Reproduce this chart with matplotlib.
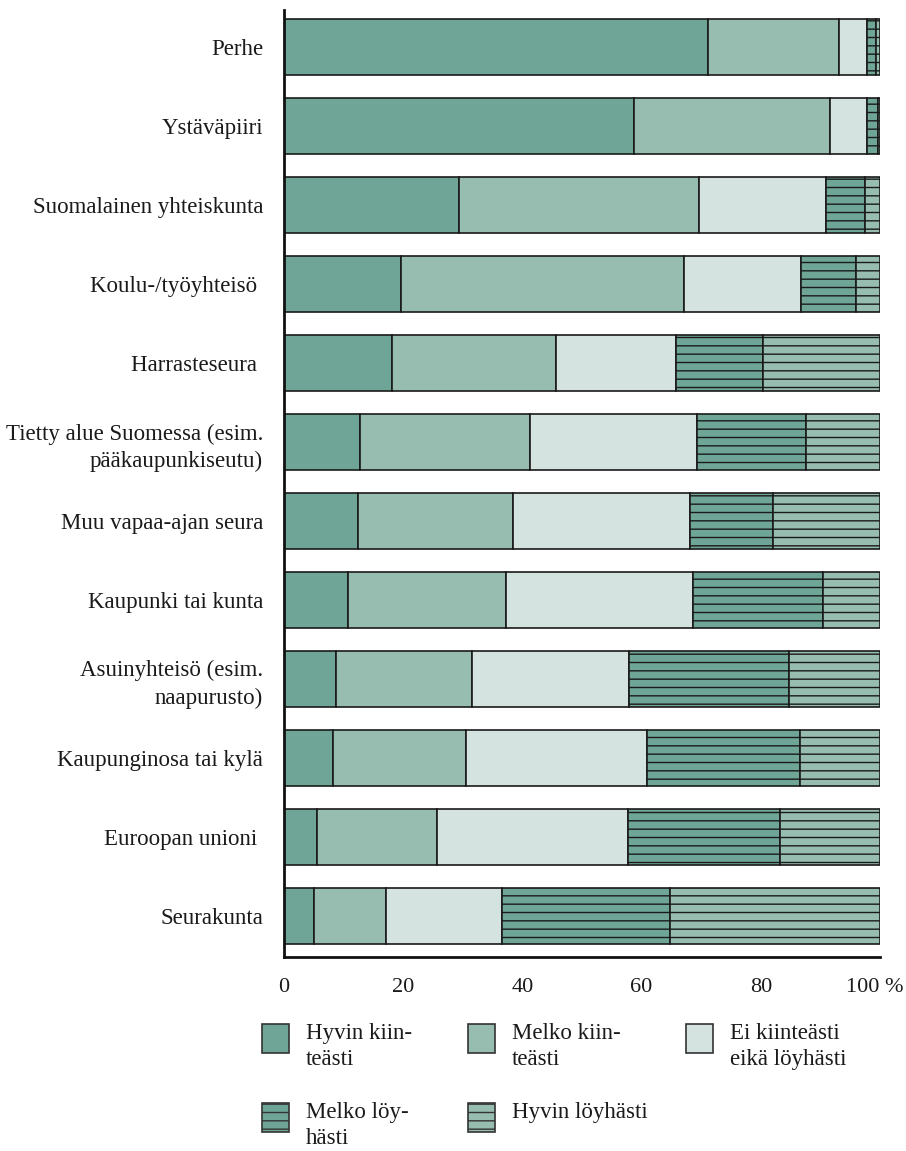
import numpy as np
import matplotlib
matplotlib.use("Agg")
import matplotlib.pyplot as plt
import matplotlib.transforms as mtransforms
from matplotlib.patches import Rectangle

# ── data (percent of respondents) ─────────────────────────────────────────────
categories = [
    "Perhe",
    "Ystäväpiiri",
    "Suomalainen yhteiskunta",
    "Koulu-/työyhteisö ",
    "Harrasteseura ",
    "Tietty alue Suomessa (esim.\npääkaupunkiseutu)",
    "Muu vapaa-ajan seura",
    "Kaupunki tai kunta",
    "Asuinyhteisö (esim.\nnaapurusto)",
    "Kaupunginosa tai kylä",
    "Euroopan unioni ",
    "Seurakunta",
]
hyvin_kiintea  = [71.1, 58.7, 29.4, 19.6, 18.1, 12.8, 12.4, 10.7,  8.7,  8.2,  5.5,  5.0]
melko_kiintea  = [22.1, 32.9, 40.2, 47.5, 27.5, 28.5, 26.0, 26.5, 22.8, 22.3, 20.2, 12.1]
ei_kumpikaan   = [ 4.7,  6.2, 21.3, 19.6, 20.1, 28.0, 29.7, 31.5, 26.4, 30.4, 32.0, 19.5]
melko_loyha    = [ 1.5,  1.8,  6.5,  9.2, 14.6, 18.3, 13.9, 21.8, 26.8, 25.7, 25.5, 28.2]
hyvin_loyha    = [ 0.6,  0.4,  2.6,  4.1, 19.7, 12.4, 18.0,  9.5, 15.3, 13.4, 16.8, 35.2]

series_labels = ["Hyvin kiin-\nteästi", "Melko kiin-\nteästi", "Ei kiinteästi\neikä löyhästi",
                 "Melko löy-\nhästi", "Hyvin löyhästi"]
series = [hyvin_kiintea, melko_kiintea, ei_kumpikaan, melko_loyha, hyvin_loyha]
colors = ["#6fa596", "#97bcb0", "#d4e3df", "#6fa596", "#97bcb0"]
hatches = [None, None, None, "--", "--"]
xticks = [0, 20, 40, 60, 80, 100]
xtick_labels = ["0", "20", "40", "60", "80", "100 %"]

plt.rcParams["font.family"] = ["Liberation Serif", "DejaVu Serif"]
plt.rcParams["hatch.linewidth"] = 1.0
plt.rcParams["hatch.color"] = "#1a1a1a"

FS = 16.5

fig = plt.figure(figsize=(9.06, 11.51), dpi=100)
ax = fig.add_axes([284 / 906, 1 - 957 / 1151, 596 / 906, 947 / 1151])

y = np.arange(len(categories))
left = np.zeros(len(categories))
for vals, col, h in zip(series, colors, hatches):
    ax.barh(y, vals, left=left, height=0.71, color=col, edgecolor="#1a1a1a",
            linewidth=1.2, hatch=h)
    left += np.array(vals)

ax.set_xlim(0, 100)
ax.set_ylim(len(categories) - 1 + 0.52, -0.47)
ax.set_yticks(y)
ax.set_yticklabels(categories, fontsize=FS, ha="right", linespacing=1.4)
ax.set_xticks(xticks)
ax.set_xticklabels(xtick_labels, fontsize=FS - 0.5)
ax.tick_params(axis="both", length=0, colors="#1a1a1a")
ax.tick_params(axis="y", pad=15)
ax.tick_params(axis="x", pad=15)
# nudge "100 %" left so it stays inside the figure
last = ax.get_xticklabels()[-1]
last.set_transform(last.get_transform() +
                   mtransforms.ScaledTranslation(-5 / 100, 0, fig.dpi_scale_trans))
for s in ["top", "right"]:
    ax.spines[s].set_visible(False)
for s in ["left", "bottom"]:
    ax.spines[s].set_linewidth(2.0)
    ax.spines[s].set_color("#111111")

# ── legend, drawn by hand ─────────────────────────────────────────────────────
W, H = 906, 1151
leg_pos = [(262, 1024), (468, 1024), (686, 1024), (262, 1103), (468, 1103)]
for (px, py), lab, col, h in zip(leg_pos, series_labels, colors, hatches):
    fig.patches.append(Rectangle((px / W, 1 - (py + 29) / H), 27 / W, 29 / H,
                                 transform=fig.transFigure, facecolor=col,
                                 edgecolor="#333333", linewidth=1.2, hatch=h))
    fig.text((px + 44) / W, 1 - (py - 1) / H, lab, fontsize=FS, va="top",
             ha="left", linespacing=1.33, color="#1a1a1a")

fig.savefig("out.png", dpi=100)
